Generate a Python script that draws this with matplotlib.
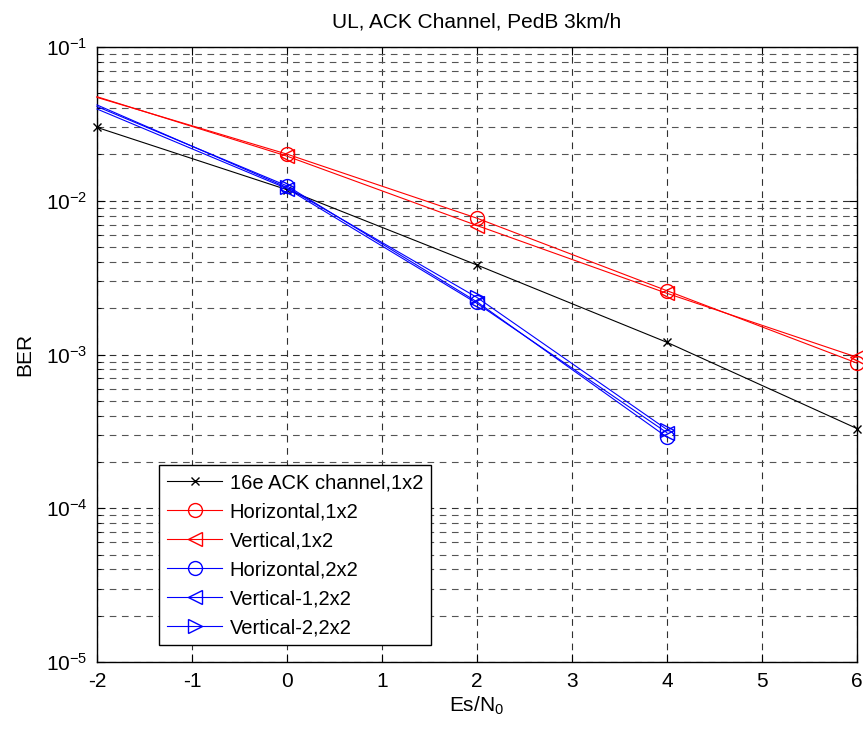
import numpy as np
import matplotlib
matplotlib.use("Agg")
import matplotlib.pyplot as plt
from matplotlib.ticker import LogLocator, NullFormatter, FixedLocator

plt.rcParams['font.family'] = ['Liberation Sans', 'DejaVu Sans']
plt.rcParams['mathtext.fontset'] = 'custom'
plt.rcParams['mathtext.rm'] = 'Liberation Sans'
plt.rcParams['mathtext.it'] = 'Liberation Sans:italic'
plt.rcParams['axes.unicode_minus'] = False

# Es/N0 (dB)
snr_full = [-2, 0, 2, 4, 6]
snr_short = [-2, 0, 2, 4]

# BER
ber_16e = [0.0300, 0.0118, 0.00382, 0.00120, 0.000330]
ber_h_1x2 = [0.0470, 0.0201, 0.00770, 0.00260, 0.000880]
ber_v_1x2 = [0.0475, 0.0195, 0.00690, 0.00250, 0.000960]
ber_h_2x2 = [0.0410, 0.0125, 0.00220, 0.000290]
ber_v1_2x2 = [0.0395, 0.0120, 0.00215, 0.000310]
ber_v2_2x2 = [0.0420, 0.0122, 0.00235, 0.000325]

fig = plt.figure(figsize=(8.63, 7.32), dpi=100)
ax = fig.add_axes([0.1124, 0.0956, 0.8806, 0.8402])

kw = dict(lw=0.8, clip_on=False, zorder=3)
# no marker shown at the left edge for the new schemes
skip = slice(1, None)
ax.semilogy(snr_full, ber_16e, color='k', marker='x', ms=5.5,
            label='16e ACK channel,1x2', **kw)
ax.semilogy(snr_full, ber_h_1x2, color='red', marker='o', ms=10, mfc='none',
            markevery=skip, label='Horizontal,1x2', **kw)
ax.semilogy(snr_full, ber_v_1x2, color='red', marker='<', ms=10, mfc='none',
            markevery=skip, label='Vertical,1x2', **kw)
ax.semilogy(snr_short, ber_h_2x2, color='blue', marker='o', ms=10, mfc='none',
            markevery=skip, label='Horizontal,2x2', **kw)
ax.semilogy(snr_short, ber_v1_2x2, color='blue', marker='<', ms=10, mfc='none',
            markevery=skip, label='Vertical-1,2x2', **kw)
ax.semilogy(snr_short, ber_v2_2x2, color='blue', marker='>', ms=10, mfc='none',
            markevery=skip, label='Vertical-2,2x2', **kw)

ax.set_xlim(-2, 6)
ax.set_ylim(1e-5, 1e-1)
ax.xaxis.set_major_locator(FixedLocator(np.arange(-2, 7, 1)))
ax.yaxis.set_major_locator(LogLocator(base=10, numticks=10))
ax.yaxis.set_minor_locator(LogLocator(base=10, subs=np.arange(2, 10), numticks=20))
ax.yaxis.set_minor_formatter(NullFormatter())

ax.grid(True, which='major', linestyle=(0, (6, 5)), color='#303030', lw=0.8)
ax.grid(True, which='minor', axis='y', linestyle=(0, (6, 5)), color='#555555', lw=0.8)

ax.tick_params(which='both', direction='in', top=True, right=True, labelsize=15)
ax.tick_params(which='major', length=6, pad=7)
ax.tick_params(which='minor', length=3)
for s in ax.spines.values():
    s.set_linewidth(1.0)

ax.set_title('UL, ACK Channel, PedB 3km/h', fontsize=15, pad=14)
ax.set_xlabel('Es/N$_0$', fontsize=15, labelpad=3)
ax.set_ylabel('BER', fontsize=15, labelpad=8)

leg = ax.legend(loc='lower left', bbox_to_anchor=(0.082, 0.027), fontsize=14.5,
                fancybox=False, edgecolor='k', framealpha=1, handlelength=2.7,
                handletextpad=0.4, borderpad=0.4, labelspacing=0.5,
                borderaxespad=0)
leg.get_frame().set_linewidth(1.0)

fig.savefig('out.png', dpi=100)
